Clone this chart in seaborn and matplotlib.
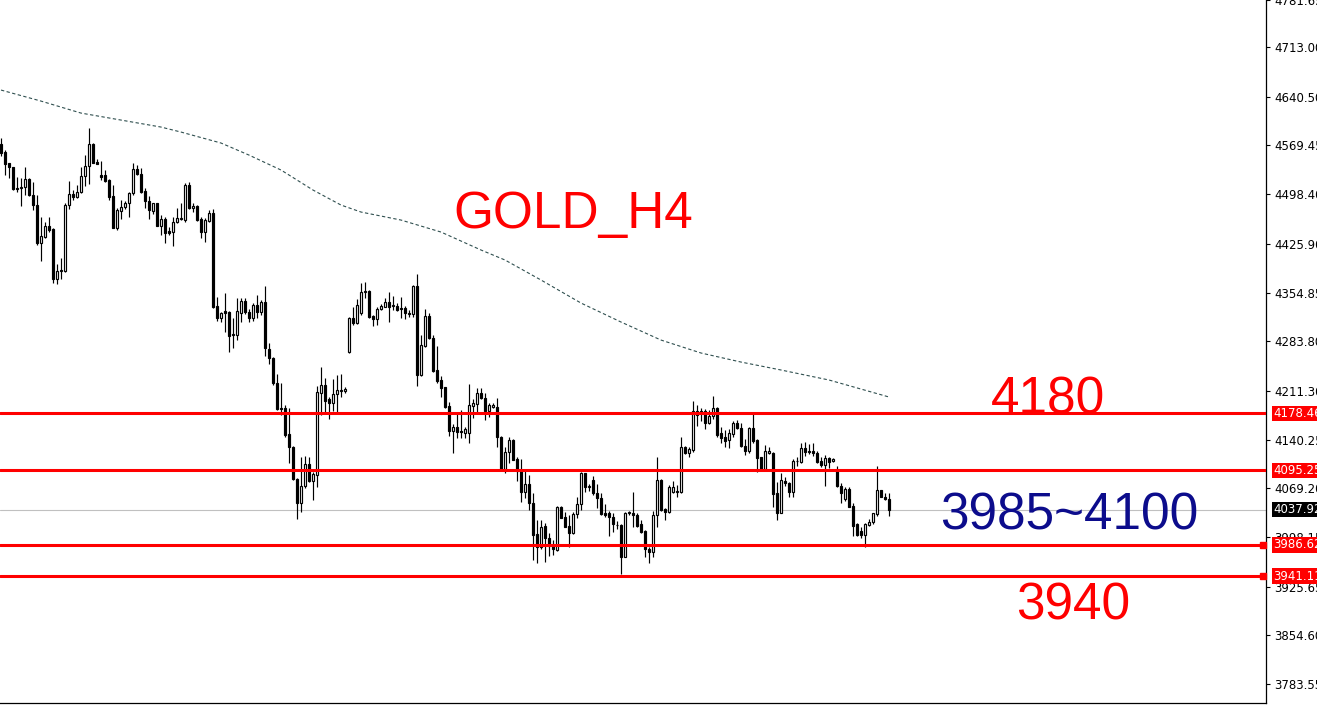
import numpy as np
import matplotlib
matplotlib.use("Agg")
import matplotlib.pyplot as plt
import matplotlib.transforms as mtransforms
import seaborn as sns

# ---------------- data (GOLD, H4 candles) ----------------
opens = [
    4571.5, 4559.8, 4543.3, 4537.4, 4507.8, 4506.8, 4508.3, 4519.9, 4496.6, 4482.0,
    4427.5, 4436.3, 4451.9, 4447.5, 4374.0, 4386.7, 4386.7, 4482.0, 4498.5, 4494.7,
    4501.0, 4524.8, 4539.4, 4571.5, 4545.7, 4526.3, 4526.3, 4519.0, 4495.6, 4449.4,
    4474.2, 4480.1, 4484.9, 4499.5, 4534.5, 4527.7, 4502.9, 4488.3, 4474.2, 4484.9,
    4452.3, 4462.1, 4444.6, 4443.6, 4457.7, 4461.6, 4460.7, 4511.7, 4477.7, 4481.1,
    4461.6, 4442.7, 4459.2, 4470.4, 4335.2, 4318.2, 4328.4, 4326.9, 4294.3, 4292.9,
    4325.5, 4342.5, 4326.9, 4317.2, 4336.6, 4326.0, 4340.5, 4272.0, 4259.8, 4222.4,
    4186.4, 4185.9, 4148.0, 4130.0, 4082.3, 4047.3, 4072.6, 4104.7, 4080.4, 4088.6,
    4208.8, 4219.9, 4199.0, 4194.2, 4206.8, 4211.7, 4211.2, 4267.6, 4318.2, 4309.9,
    4324.5, 4355.1, 4357.6, 4320.6, 4315.7, 4330.3, 4334.2, 4340.5, 4335.7, 4335.2,
    4331.8, 4332.8, 4323.5, 4323.0, 4364.4, 4234.5, 4276.8, 4320.6, 4288.0, 4241.8,
    4227.2, 4216.5, 4189.3, 4153.3, 4159.2, 4152.8, 4150.4, 4149.4, 4189.8, 4192.2,
    4207.8, 4201.5, 4182.5, 4187.4, 4188.3, 4144.6, 4096.9, 4122.7, 4139.7, 4111.5,
    4095.9, 4063.4, 4075.5, 4048.3, 4002.6, 3984.0, 4014.7, 3996.2, 3985.5, 3979.2,
    4042.4, 4027.8, 4014.7, 4003.5, 4031.2, 4046.3, 4091.0, 4070.6, 4081.3, 4061.9,
    4055.5, 4032.7, 4033.6, 4027.8, 4015.2, 4015.7, 3969.5, 4032.7, 4033.6, 4030.2,
    4017.1, 4006.9, 3981.1, 3975.8, 4030.2, 4081.3, 4038.5, 4035.1, 4064.3, 4064.3,
    4064.3, 4129.9, 4121.2, 4125.1, 4176.1, 4181.0, 4182.5, 4164.0, 4174.7, 4185.9,
    4149.4, 4144.5, 4139.7, 4148.4, 4164.9, 4157.7, 4130.9, 4124.1, 4156.7, 4139.7,
    4114.4, 4096.9, 4120.2, 4121.2, 4061.9, 4033.6, 4080.3, 4077.4, 4064.3, 4108.5,
    4108.1, 4127.5, 4124.1, 4124.1, 4120.2, 4109.0, 4103.2, 4112.9, 4109.0, 4094.9,
    4072.6, 4053.6, 4068.7, 4043.4, 4017.1, 4007.4, 4001.1, 4015.7, 4020.5, 4031.2,
    4066.7, 4057.0, 4054.1,
]
highs = [
    4579.7, 4562.7, 4544.3, 4538.4, 4523.8, 4521.4, 4538.4, 4521.4, 4516.5, 4497.1,
    4465.5, 4458.2, 4465.5, 4448.5, 4396.4, 4404.7, 4484.9, 4517.5, 4504.4, 4511.7,
    4538.4, 4555.4, 4594.8, 4573.4, 4549.1, 4546.7, 4533.6, 4521.0, 4511.7, 4478.6,
    4489.8, 4488.3, 4501.9, 4543.3, 4540.8, 4536.0, 4506.8, 4495.6, 4485.9, 4485.9,
    4467.9, 4465.5, 4450.9, 4464.5, 4477.6, 4485.0, 4514.1, 4515.6, 4485.0, 4482.5,
    4464.5, 4464.1, 4475.2, 4476.2, 4347.8, 4326.9, 4353.7, 4328.4, 4317.2, 4347.3,
    4347.3, 4346.4, 4330.3, 4339.1, 4351.2, 4344.0, 4364.4, 4280.7, 4261.3, 4236.0,
    4222.4, 4190.8, 4185.9, 4131.0, 4083.8, 4115.4, 4116.4, 4114.4, 4093.5, 4218.5,
    4245.7, 4229.7, 4202.9, 4228.2, 4234.5, 4236.0, 4216.5, 4319.6, 4334.2, 4344.9,
    4368.3, 4369.7, 4358.5, 4322.1, 4334.2, 4338.1, 4346.4, 4355.1, 4349.8, 4339.1,
    4347.8, 4335.2, 4329.4, 4365.8, 4381.9, 4292.9, 4330.3, 4325.5, 4292.9, 4276.8,
    4233.1, 4217.5, 4195.6, 4163.0, 4181.0, 4183.5, 4159.2, 4221.4, 4199.0, 4215.1,
    4215.1, 4207.8, 4194.2, 4193.2, 4200.5, 4145.6, 4130.0, 4144.6, 4140.7, 4115.4,
    4112.0, 4095.9, 4088.6, 4061.9, 4023.0, 4022.9, 4018.1, 4004.5, 3993.8, 4043.4,
    4043.4, 4035.1, 4030.2, 4035.1, 4057.0, 4093.5, 4092.0, 4075.5, 4087.1, 4075.5,
    4061.9, 4046.3, 4036.6, 4033.6, 4021.5, 4016.7, 4035.1, 4036.6, 4064.3, 4033.6,
    4022.9, 4008.4, 3984.0, 4036.1, 4115.3, 4082.3, 4040.0, 4074.0, 4080.3, 4074.0,
    4144.5, 4130.9, 4129.9, 4197.0, 4190.7, 4185.9, 4184.4, 4183.4, 4203.9, 4188.3,
    4159.1, 4154.3, 4155.2, 4167.4, 4168.8, 4164.0, 4140.6, 4159.1, 4177.1, 4140.6,
    4115.3, 4132.4, 4129.9, 4122.6, 4078.9, 4091.0, 4086.2, 4078.9, 4111.5, 4115.3,
    4135.8, 4137.2, 4133.8, 4135.8, 4124.1, 4114.4, 4117.8, 4115.3, 4113.9, 4101.7,
    4077.4, 4071.6, 4070.6, 4047.3, 4018.1, 4013.2, 4018.1, 4023.9, 4032.7, 4101.7,
    4066.7, 4061.9, 4061.9,
]
lows = [
    4554.0, 4526.3, 4521.4, 4504.4, 4501.9, 4481.0, 4497.1, 4495.6, 4475.2, 4424.1,
    4401.3, 4433.9, 4443.6, 4368.2, 4366.7, 4374.0, 4385.2, 4476.2, 4489.8, 4492.2,
    4500.5, 4510.2, 4513.1, 4543.3, 4541.8, 4519.0, 4516.5, 4489.8, 4448.5, 4446.0,
    4462.1, 4476.2, 4465.5, 4497.1, 4526.3, 4500.5, 4477.6, 4461.6, 4469.4, 4451.9,
    4438.7, 4427.5, 4438.7, 4423.2, 4455.7, 4460.7, 4458.2, 4476.2, 4472.8, 4459.7,
    4434.9, 4429.1, 4458.2, 4331.8, 4313.8, 4312.3, 4297.7, 4268.6, 4273.4, 4285.6,
    4312.3, 4323.5, 4312.3, 4313.8, 4317.2, 4322.1, 4262.7, 4250.1, 4219.9, 4183.5,
    4176.2, 4144.6, 4106.6, 4081.3, 4024.0, 4035.1, 4069.2, 4078.9, 4052.2, 4071.6,
    4176.2, 4179.6, 4169.8, 4182.5, 4181.0, 4202.9, 4208.8, 4266.1, 4307.5, 4308.9,
    4322.1, 4346.4, 4317.2, 4306.0, 4307.5, 4329.4, 4333.2, 4312.3, 4329.4, 4328.4,
    4317.2, 4316.2, 4318.7, 4319.6, 4218.5, 4233.6, 4274.9, 4287.0, 4239.4, 4222.4,
    4201.9, 4186.9, 4145.5, 4121.2, 4142.1, 4142.1, 4142.1, 4135.8, 4171.3, 4179.6,
    4199.0, 4168.9, 4173.7, 4185.9, 4130.0, 4095.9, 4091.1, 4105.7, 4110.0, 4080.4,
    4049.7, 4054.6, 4037.6, 3964.6, 3959.8, 3980.2, 3962.2, 3970.9, 3971.9, 3978.2,
    4025.4, 4012.3, 3983.1, 4002.5, 4025.4, 4037.5, 4064.3, 4065.8, 4059.4, 4040.0,
    4030.2, 4026.8, 4000.1, 4005.9, 4009.3, 3943.7, 3969.0, 4030.2, 4013.2, 4013.2,
    4004.5, 3969.5, 3959.7, 3969.5, 4013.2, 4036.6, 4022.9, 4032.7, 4061.9, 4057.0,
    4062.8, 4119.2, 4115.3, 4122.6, 4160.1, 4167.9, 4155.2, 4162.5, 4169.8, 4144.5,
    4134.8, 4129.9, 4127.5, 4144.5, 4155.2, 4129.9, 4117.8, 4121.2, 4134.8, 4093.5,
    4095.9, 4095.9, 4119.2, 4041.4, 4022.9, 4032.7, 4072.6, 4056.0, 4056.0, 4101.7,
    4106.6, 4116.3, 4119.2, 4116.3, 4106.6, 4099.8, 4072.6, 4098.3, 4108.1, 4071.6,
    4048.2, 4051.2, 4041.4, 3999.6, 3999.6, 3996.2, 3984.0, 4014.2, 4017.1, 4028.8,
    4056.0, 4052.1, 4028.8,
]
closes = [
    4558.8, 4541.8, 4537.4, 4505.8, 4506.3, 4508.3, 4519.9, 4496.6, 4482.0, 4426.6,
    4437.3, 4451.9, 4446.0, 4374.0, 4386.7, 4387.7, 4482.5, 4498.5, 4494.7, 4501.5,
    4524.8, 4539.4, 4571.5, 4544.3, 4542.8, 4523.8, 4518.0, 4494.7, 4449.4, 4475.2,
    4480.1, 4484.9, 4499.5, 4534.5, 4527.7, 4501.9, 4488.3, 4475.2, 4484.9, 4452.3,
    4462.1, 4442.1, 4442.1, 4457.7, 4463.0, 4463.1, 4511.7, 4477.7, 4481.1, 4460.7,
    4442.7, 4460.7, 4470.4, 4334.2, 4318.2, 4324.5, 4325.5, 4291.9, 4292.4, 4327.9,
    4342.5, 4326.9, 4317.2, 4336.6, 4326.9, 4340.5, 4273.4, 4258.8, 4222.4, 4184.4,
    4184.4, 4147.0, 4129.0, 4082.3, 4047.3, 4072.6, 4104.7, 4080.4, 4090.1, 4209.2,
    4219.9, 4197.1, 4194.2, 4206.8, 4212.6, 4212.6, 4213.6, 4317.2, 4309.9, 4336.6,
    4355.1, 4357.1, 4319.6, 4315.7, 4330.3, 4335.2, 4340.5, 4334.2, 4336.6, 4329.4,
    4330.3, 4324.5, 4325.5, 4364.4, 4234.5, 4278.3, 4320.6, 4288.0, 4240.4, 4226.3,
    4215.1, 4188.3, 4153.3, 4158.2, 4151.9, 4150.9, 4155.7, 4190.8, 4193.2, 4207.8,
    4200.5, 4182.5, 4190.8, 4190.8, 4143.6, 4096.9, 4122.7, 4139.7, 4110.5, 4095.0,
    4063.4, 4075.5, 4047.3, 4001.1, 3984.1, 4013.2, 3996.2, 3985.5, 3980.2, 4042.4,
    4026.4, 4013.2, 4004.5, 4031.2, 4046.3, 4091.0, 4071.6, 4072.6, 4061.9, 4054.6,
    4031.2, 4030.7, 4026.8, 4016.6, 4016.1, 3969.5, 4033.6, 4034.1, 4030.7, 4014.2,
    4005.9, 3980.2, 3975.8, 4030.2, 4081.3, 4037.5, 4035.1, 4071.6, 4071.6, 4065.8,
    4129.9, 4121.2, 4126.5, 4182.0, 4182.5, 4182.5, 4164.0, 4174.7, 4185.9, 4147.0,
    4143.1, 4138.7, 4149.4, 4164.9, 4156.7, 4130.9, 4124.1, 4156.7, 4138.7, 4112.9,
    4096.9, 4123.6, 4124.1, 4060.9, 4033.6, 4081.3, 4076.4, 4064.3, 4109.5, 4109.5,
    4127.5, 4122.6, 4122.2, 4120.2, 4108.1, 4103.2, 4112.9, 4108.1, 4112.4, 4072.6,
    4061.9, 4067.7, 4042.4, 4014.7, 4001.1, 4001.1, 4017.1, 4020.5, 4032.7, 4066.7,
    4056.0, 4054.1, 4037.92,
]

# moving average (dotted line), sampled at these bar numbers
ma_bars = [0, 10, 20, 30, 40, 45, 55, 62, 70, 78, 85, 90, 100, 110, 120, 126,
           135, 145, 155, 165, 175, 185, 195, 207, 215, 222]
ma_values = [4650.3, 4634.2, 4616.7, 4606.5, 4596.3, 4589.0, 4573.0, 4555.4,
             4533.6, 4504.4, 4482.5, 4472.3, 4460.6, 4443.1, 4416.9, 4402.3,
             4373.1, 4339.5, 4311.8, 4285.5, 4266.6, 4253.4, 4241.8, 4227.2,
             4214.0, 4202.4]

level_values = [4178.46, 4095.25, 3986.62, 3941.11]
level_labels = ["4178.46", "4095.25", "3986.62", "3941.11"]
level_marked = [False, False, True, True]
bid_value = 4037.92
bid_label = "4037.92"

y_tick_values = [4781.65, 4713.00, 4640.50, 4569.45, 4498.40, 4425.90, 4354.85,
                 4283.80, 4211.30, 4140.25, 4069.20, 3998.15, 3925.65, 3854.60,
                 3783.55]
y_tick_labels = ["4781.65", "4713.00", "4640.50", "4569.45", "4498.40", "4425.90",
                 "4354.85", "4283.80", "4211.30", "4140.25", "4069.20", "3998.15",
                 "3925.65", "3854.60", "3783.55"]
x_tick_bars = [22, 46, 70, 94, 118, 142, 166, 190, 214]

title_text = "GOLD_H4"
note_texts = ["4180", "3985~4100", "3940"]
note_colors = ["#ff0000", "#0c0c8c", "#ff0000"]

# ---------------- figure ----------------
sns.set_style("white")
plt.rcParams["font.family"] = ["DejaVu Sans"]

W, H, DPI = 1317, 710, 100
fig = plt.figure(figsize=(W / DPI, H / DPI), dpi=DPI)
fig.patch.set_facecolor("white")
ax = fig.add_axes([0.0, 7 / H, 1266 / W, 1 - 7 / H])
ax.set_facecolor("white")

o = np.array(opens)
c = np.array(closes)
hi = np.array(highs)
lo = np.array(lows)
idx = np.arange(len(c))

# current bid line
ax.axhline(bid_value, color="#c0c0c0", lw=0.8, zorder=1)

# moving average
sns.lineplot(x=ma_bars, y=ma_values, ax=ax, color="#2f4f4f", lw=0.8, zorder=1.5)
ax.lines[-1].set_dashes([3, 2.2])

# candles
ax.vlines(idx, lo, hi, color="black", lw=0.85, zorder=2)
bull = c >= o
bottoms = np.minimum(o, c)
heights = np.maximum(np.abs(c - o), 0.6)
ax.bar(idx, heights, bottom=bottoms, width=0.55,
       color=np.where(bull, "white", "black"), edgecolor="black",
       linewidth=0.85, zorder=3)

# red support / resistance levels
trans = mtransforms.blended_transform_factory(ax.transAxes, ax.transData)
off = mtransforms.ScaledTranslation(7 / DPI, 0, fig.dpi_scale_trans)
for v, lab, mk in zip(level_values, level_labels, level_marked):
    ax.axhline(v, color="#ff0000", lw=2.2, zorder=4)
    if mk:
        ax.plot([0.9975], [v], marker="s", ms=4, color="#ff0000",
                transform=trans, clip_on=False, zorder=6)
    ax.text(1.0, v, lab, transform=trans + off, ha="left", va="center",
            fontsize=8.5, color="white", clip_on=False, zorder=6,
            bbox=dict(boxstyle="square,pad=0.1", fc="#ff0000", ec="none"))
ax.text(1.0, bid_value, bid_label, transform=trans + off, ha="left", va="center",
        fontsize=8.5, color="white", clip_on=False, zorder=6,
        bbox=dict(boxstyle="square,pad=0.1", fc="black", ec="none"))

# axes & ticks
ax.set_xlim(-0.25, 316.25)
ax.set_ylim(3755.9, 4781.7)
ax.yaxis.tick_right()
ax.set_yticks(y_tick_values)
ax.set_yticklabels(y_tick_labels)
ax.set_xticks(x_tick_bars)
ax.set_xticklabels([])
ax.tick_params(axis="y", direction="out", length=3, width=0.8, pad=3,
               labelsize=8.5, colors="black", right=True, left=False)
ax.tick_params(axis="x", direction="out", length=5, width=0.8, colors="black")
for s in ["top", "left"]:
    ax.spines[s].set_visible(False)
for s in ["right", "bottom"]:
    ax.spines[s].set_visible(True)
    ax.spines[s].set_color("black")
    ax.spines[s].set_linewidth(0.9)
ax.grid(False)

# big annotations
big = dict(fontsize=37, family=["Liberation Sans", "DejaVu Sans"], zorder=7)
ax.text(573 / 1266, (703 - 228) / 703, title_text, transform=ax.transAxes,
        ha="center", va="baseline", color="#ff0000", **big)
ax.text(1048 / 1266, (703 - 414) / 703, note_texts[0], transform=ax.transAxes,
        ha="center", va="baseline", color=note_colors[0], **big)
ax.text(1069 / 1266, (703 - 529) / 703, note_texts[1], transform=ax.transAxes,
        ha="center", va="baseline", color=note_colors[1], **big)
ax.text(1073 / 1266, (703 - 620) / 703, note_texts[2], transform=ax.transAxes,
        ha="center", va="baseline", color=note_colors[2], **big)

fig.savefig("out.png", dpi=DPI, facecolor="white")
